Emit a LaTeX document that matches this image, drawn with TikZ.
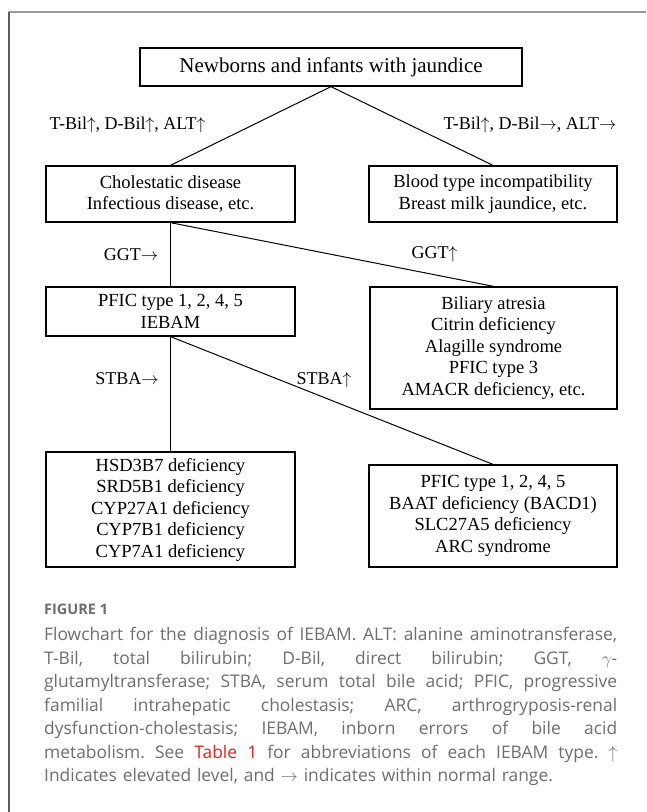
\documentclass[tikz,border=0pt]{standalone}
\usepackage{fontspec}
\setmainfont{Liberation Serif}
\newfontfamily\capfont{Open Sans}
\usetikzlibrary{positioning}
\definecolor{framegray}{HTML}{9A9A9A}
\definecolor{edgegray}{HTML}{5F5F5F}
\definecolor{capgray}{HTML}{6E6E6E}
\definecolor{tablered}{HTML}{E2231A}
\newcommand{\capline}[1]{\hbox to 573pt{\frenchspacing\spaceskip=.26em plus 1fil\xspaceskip=.26em plus 1fil\relax #1}}

\begin{document}
\begin{tikzpicture}[x=1pt, y=-1pt,
    stage/.style={draw=black, line width=1.3pt, align=center, inner sep=0pt, font=\fontsize{18.5}{21.5}\selectfont},
    cond/.style={inner sep=0pt, anchor=mid, font=\fontsize{18}{21.5}\selectfont},
    link/.style={black, line width=1pt}
]
\useasboundingbox (0,0) rectangle (646,812);

% Frame
\draw[framegray, line width=1.5pt] (9,12) -- (646,12);
\draw[edgegray, line width=1.2pt] (9,12) -- (9,812);

% Stages
\node[stage, minimum width=382, minimum height=38, font=\fontsize{21}{24}\selectfont] (top) at (331,67) {Newborns and infants with jaundice};

\node[stage, minimum width=249, minimum height=56] (chol) at (170.5,194) {Cholestatic disease\\Infectious disease, etc.};
\node[stage, minimum width=248, minimum height=56] (blood) at (493,194) {Blood type incompatibility\\Breast milk jaundice, etc.};

\node[stage, minimum width=249, minimum height=49] (pfic) at (170.5,311.5) {PFIC type 1, 2, 4, 5\\IEBAM};
\node[stage, minimum width=247, minimum height=122] (atresia) at (493.5,348) {Biliary atresia\\Citrin deficiency\\Alagille syndrome\\PFIC type 3\\AMACR deficiency, etc.};

\node[stage, minimum width=249, minimum height=115] (iebam) at (170.5,509.5) {HSD3B7 deficiency\\SRD5B1 deficiency\\CYP27A1 deficiency\\CYP7B1 deficiency\\CYP7A1 deficiency};
\node[stage, minimum width=248, minimum height=102] (baat) at (493,516) {PFIC type 1, 2, 4, 5\\BAAT deficiency (BACD1)\\SLC27A5 deficiency\\ARC syndrome};

% Conditions
\node[cond] (bilUp) at (127.5,127) {T-Bil$\uparrow$, D-Bil$\uparrow$, ALT$\uparrow$};
\node[cond] (bilNorm) at (530,127) {T-Bil$\uparrow$, D-Bil$\rightarrow$, ALT$\rightarrow$};
\node[cond] (ggtNorm) at (131,258) {GGT$\rightarrow$};
\node[cond] (ggtUp) at (434.5,256) {GGT$\uparrow$};
\node[cond] (stbaNorm) at (127,382) {STBA$\rightarrow$};
\node[cond] (stbaUp) at (324,382) {STBA$\uparrow$};

% Connecting lines
\draw[link] (top.south) -- (chol.north);
\draw[link] (top.south) -- (blood.north);
\draw[link] (chol.south) -- (pfic.north);
\draw[link] (chol.south) -- (atresia.north);
\draw[link] (pfic.south) -- (iebam.north);
\draw[link] (pfic.south) -- (baat.north);

% Caption
\node[anchor=mid west, inner sep=0pt, text=capgray, font=\capfont\bfseries\fontsize{14.5}{18}\selectfont] (figlabel) at (44,612) {FIGURE 1};
\node[anchor=north west, inner sep=0pt, text width=573pt, text=capgray, font=\capfont\fontsize{17.4}{23.5}\selectfont] (caption) at (44,627) {%
\capline{Flowchart for the diagnosis of IEBAM. ALT: alanine aminotransferase,}
\capline{T-Bil, total bilirubin; D-Bil, direct bilirubin; GGT, $\gamma$-}
\capline{glutamyltransferase; STBA, serum total bile acid; PFIC, progressive}
\capline{familial intrahepatic cholestasis; ARC, arthrogryposis-renal}
\capline{dysfunction-cholestasis; IEBAM, inborn errors of bile acid}
\capline{metabolism. See \textcolor{tablered}{Table 1} for abbreviations of each IEBAM type. $\uparrow$}
\hbox{Indicates elevated level, and $\rightarrow$ indicates within normal range.}};

\end{tikzpicture}
\end{document}
